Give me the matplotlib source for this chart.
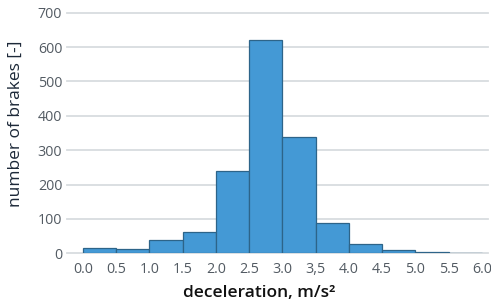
import matplotlib

matplotlib.use("Agg")
import matplotlib.pyplot as plt
import numpy as np

# histogram bins (deceleration, m/s^2) and counts per bin
bin_edges = [0.0, 0.5, 1.0, 1.5, 2.0, 2.5, 3.0, 3.5, 4.0, 4.5, 5.0, 5.5, 6.0]
counts = [16, 12, 38, 61, 240, 620, 339, 89, 27, 10, 5, 2]
x_tick_labels = ["0.0", "0.5", "1.0", "1.5", "2.0", "2.5", "3.0", "3,5",
                 "4.0", "4.5", "5.0", "5.5", "6.0"]
y_ticks = [0, 100, 200, 300, 400, 500, 600, 700]

plt.rcParams["font.family"] = ["Open Sans", "DejaVu Sans"]

fig = plt.figure(figsize=(4.91, 3.03), dpi=100)
ax = fig.add_axes([0.1365, 0.164, 0.857, 0.794])

edges = np.array(bin_edges)
ax.bar(edges[:-1], counts, width=np.diff(edges), align="edge",
       color="#4499d5", edgecolor="#2d6489", linewidth=0.9, zorder=3)

ax.set_xlim(-0.24, 6.09)
ax.set_ylim(0, 700)
ax.set_xticks(bin_edges, x_tick_labels)
ax.set_yticks(y_ticks)
ax.tick_params(length=0, labelsize=10.3, colors="#535b63")
ax.tick_params(axis="x", pad=6.5)
ax.tick_params(axis="y", pad=3.5)
for s in ax.spines.values():
    s.set_visible(False)
ax.grid(axis="y", color="#d8dcdf", linewidth=1.3, zorder=0)
for line in ax.get_ygridlines():
    line.set_clip_on(False)

ax.set_ylabel("number of brakes [-]", fontsize=12.5, color="#1c2838", va="center")
ax.yaxis.set_label_coords(-0.121, 0.54)
ax.set_xlabel("deceleration, m/s²", fontsize=12.5, color="#111111",
              fontweight="semibold", va="center")
ax.xaxis.set_label_coords(0.457, -0.165)

fig.savefig("out.png", dpi=100)
